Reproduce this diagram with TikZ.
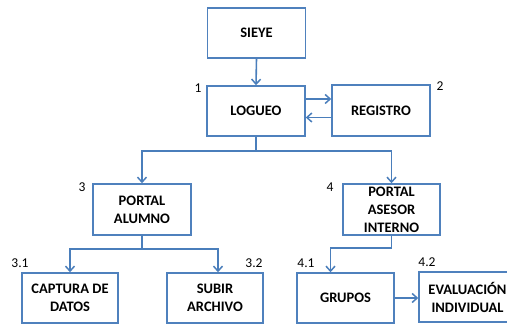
\documentclass[tikz,border=0pt]{standalone}
\usepackage{fontspec}
\setmainfont{Carlito}
\usetikzlibrary{arrows.meta}
\definecolor{boxc}{HTML}{4F81BD}
\definecolor{arrc}{HTML}{4A7EBB}
\tikzset{
  box/.style={draw=boxc, line width=1.5pt, minimum width=98pt, minimum height=50pt, align=center,
    font=\fontsize{14.5}{18}\selectfont\bfseries, inner sep=1pt},
  arr/.style={draw=arrc, line width=1.6pt, -{Straight Barb[length=5pt,width=9pt,line width=1.5pt]}},
  lin/.style={draw=arrc, line width=1.6pt},
  num/.style={font=\fontsize{13.5}{15}\selectfont, inner sep=0pt}
}
\begin{document}
\begin{tikzpicture}[x=1pt,y=1pt]
\useasboundingbox (0,0) rectangle (507,-326);
\clip (0,0) rectangle (507,-326);
\node[box] (sieye) at (256.5,-33) {SIEYE};
\node[box] (log) at (256,-111) {LOGUEO};
\node[box, minimum height=51pt] (reg) at (381,-110.5) {REGISTRO};
\node[box, minimum height=51pt] (pa) at (142,-209.5) {PORTAL\\ALUMNO};
\node[box, minimum width=97pt, minimum height=51pt] (pai) at (391.5,-209.5) {PORTAL\\ASESOR\\INTERNO};
\node[box, minimum width=96pt] (cap) at (70,-298) {CAPTURA DE\\DATOS};
\node[box, minimum width=96pt] (sub) at (215,-298) {SUBIR\\ARCHIVO};
\node[box, minimum width=97pt] (gru) at (345.5,-298) {GRUPOS};
\node[box, minimum width=97pt] (eva) at (467.5,-297) {EVALUACIÓN\\INDIVIDUAL};

\node[num] (n1) at (198,-88) {1};
\node[num] (n2) at (440,-86) {2};
\node[num] (n3) at (82,-187) {3};
\node[num] (n4) at (330,-187) {4};
\node[num] (n31) at (20,-263) {3.1};
\node[num] (n32) at (254,-263) {3.2};
\node[num] (n41) at (306,-263) {4.1};
\node[num] (n42) at (427,-262) {4.2};

\draw[arr] (sieye.south) -- (log.north);
\draw[arr] ([yshift=12pt]log.east) -- ([yshift=12pt]log.east -| reg.west);
\draw[arr] ([yshift=-7pt]reg.west) -- ([yshift=-7pt]reg.west -| log.east);
\draw[lin] (log.south) -- ++(0,-14) coordinate (j1);
\draw[arr] (j1) -| (pa.north);
\draw[arr] (j1) -| (pai.north);
\draw[lin] (pa.south) -- ++(0,-13) coordinate (j2);
\draw[arr] (j2) -| (cap.north);
\draw[arr] (j2) -| ([xshift=3pt]sub.north);
\draw[lin] (pai.south) -- ++(0,-12) coordinate (j3);
\draw[arr] (j3) -| ([xshift=-15pt]gru.north);
\draw[arr] (gru.east) -- (gru.east -| eva.west);
\end{tikzpicture}
\end{document}
